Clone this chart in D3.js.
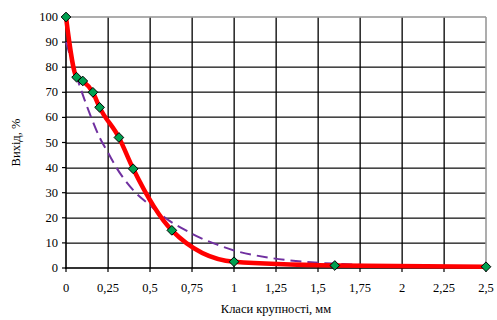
<!DOCTYPE html>
<html>
<head>
<meta charset="utf-8">
<script src="https://cdn.jsdelivr.net/npm/d3@7"></script>
<style>
  body { margin: 0; background: #fff; }
</style>
</head>
<body>
<div id="chart"></div>
<script>
// sieve sizes (mm) and measured yield (%)
const sizes = [0, 0.063, 0.1, 0.16, 0.2, 0.315, 0.4, 0.63, 1, 1.6, 2.5];
const yields = [100, 76, 74.5, 70, 64, 52, 39.5, 15, 2.5, 1, 0.5];

// approximating curve
const fitX = [0, 0.05, 0.1, 0.15, 0.2, 0.25, 0.3, 0.4, 0.5, 0.6, 0.7, 0.8, 0.9, 1.0, 1.2, 1.4, 1.6, 1.8, 2.0, 2.25, 2.5];
const fitY = [90, 79, 69, 60, 52, 46, 40, 31, 25, 19.5, 15.5, 12, 9.3, 7, 4.2, 2.6, 1.7, 1.1, 0.8, 0.6, 0.5];

const xTicks = [0, 0.25, 0.5, 0.75, 1, 1.25, 1.5, 1.75, 2, 2.25, 2.5];
const yTicks = [0, 10, 20, 30, 40, 50, 60, 70, 80, 90, 100];

const width = 497, height = 320;
const margin = {top: 17, right: 11, bottom: 52, left: 66};
const serif = "Liberation Serif";

const svg = d3.select("#chart").append("svg")
    .attr("width", width)
    .attr("height", height);

const x = d3.scaleLinear().domain([0, 2.5]).range([margin.left, width - margin.right]);
const y = d3.scaleLinear().domain([0, 100]).range([height - margin.bottom, margin.top]);

const fmt = d => String(d).replace(".", ",");
const x0 = x(0), x1 = x(2.5), y0 = y(0), y1 = y(100);

// grid as thin filled bars
svg.append("g")
    .selectAll("rect")
    .data(yTicks.slice(1, -1))
    .join("rect")
    .attr("x", x0).attr("width", x1 - x0)
    .attr("y", d => Math.round(y(d)) - 0.5).attr("height", 1.3)
    .attr("fill", "#1a1a1a");
svg.append("g")
    .selectAll("rect")
    .data(xTicks.slice(1, -1))
    .join("rect")
    .attr("x", d => Math.round(x(d)) - 0.5).attr("width", 1.3)
    .attr("y", y1).attr("height", y0 - y1)
    .attr("fill", "#000");

// grey frame on top and right
svg.append("rect").attr("x", x0).attr("y", y1 - 0.8).attr("width", x1 - x0).attr("height", 1.6).attr("fill", "#999");
svg.append("rect").attr("x", x1 - 0.8).attr("y", y1).attr("width", 1.6).attr("height", y0 - y1).attr("fill", "#999");

// axis lines and tick marks
svg.append("rect").attr("x", x0 - 0.8).attr("y", y1).attr("width", 1.6).attr("height", y0 - y1 + 0.8).attr("fill", "#000");
svg.append("rect").attr("x", x0 - 0.8).attr("y", y0 - 0.8).attr("width", x1 - x0 + 0.8).attr("height", 1.6).attr("fill", "#000");
svg.append("g")
    .selectAll("rect")
    .data(xTicks)
    .join("rect")
    .attr("x", d => x(d) - 0.6).attr("width", 1.2)
    .attr("y", y0).attr("height", 4)
    .attr("fill", "#000");
svg.append("g")
    .selectAll("rect")
    .data(yTicks)
    .join("rect")
    .attr("x", x0 - 4).attr("width", 4)
    .attr("y", d => y(d) - 0.6).attr("height", 1.2)
    .attr("fill", "#000");

// tick labels
svg.append("g")
    .selectAll("text")
    .data(xTicks)
    .join("text")
    .attr("x", d => x(d))
    .attr("y", y0 + 24)
    .attr("text-anchor", "middle")
    .attr("font-family", serif)
    .attr("font-size", 12.5)
    .attr("fill", "#000")
    .text(fmt);
svg.append("g")
    .selectAll("text")
    .data(yTicks)
    .join("text")
    .attr("x", x0 - 8)
    .attr("y", d => y(d) + 4)
    .attr("text-anchor", "end")
    .attr("font-family", serif)
    .attr("font-size", 12.5)
    .attr("fill", "#000")
    .text(d => d);

// fitted dashed line
svg.append("path")
    .datum(fitX.map((d, i) => [d, fitY[i]]))
    .attr("fill", "none")
    .attr("stroke", "#7030A0")
    .attr("stroke-width", 2)
    .attr("stroke-dasharray", "11,6")
    .attr("d", d3.line().x(d => x(d[0])).y(d => y(d[1])).curve(d3.curveMonotoneX));

// measured curve
const pts = sizes.map((d, i) => [d, yields[i]]);
svg.append("path")
    .datum(pts)
    .attr("fill", "none")
    .attr("stroke", "#FF0000")
    .attr("stroke-width", 4.5)
    .attr("stroke-linejoin", "round")
    .attr("d", d3.line().x(d => x(d[0])).y(d => y(d[1])).curve(d3.curveMonotoneX));

// markers
svg.append("g")
    .selectAll("path")
    .data(pts)
    .join("path")
    .attr("transform", d => `translate(${x(d[0])},${y(d[1])})`)
    .attr("d", d3.symbol(d3.symbolDiamond2, 60)())
    .attr("fill", "#00A050")
    .attr("stroke", "#000")
    .attr("stroke-width", 1);

// axis titles
svg.append("text")
    .attr("x", (x0 + x1) / 2)
    .attr("y", 313)
    .attr("text-anchor", "middle")
    .attr("font-family", serif)
    .attr("font-size", 12.5)
    .text("Класи крупності, мм");
svg.append("text")
    .attr("transform", `translate(20,${(y0 + y1) / 2}) rotate(-90)`)
    .attr("text-anchor", "middle")
    .attr("font-family", serif)
    .attr("font-size", 12.5)
    .text("Вихід, %");
</script>
</body>
</html>
